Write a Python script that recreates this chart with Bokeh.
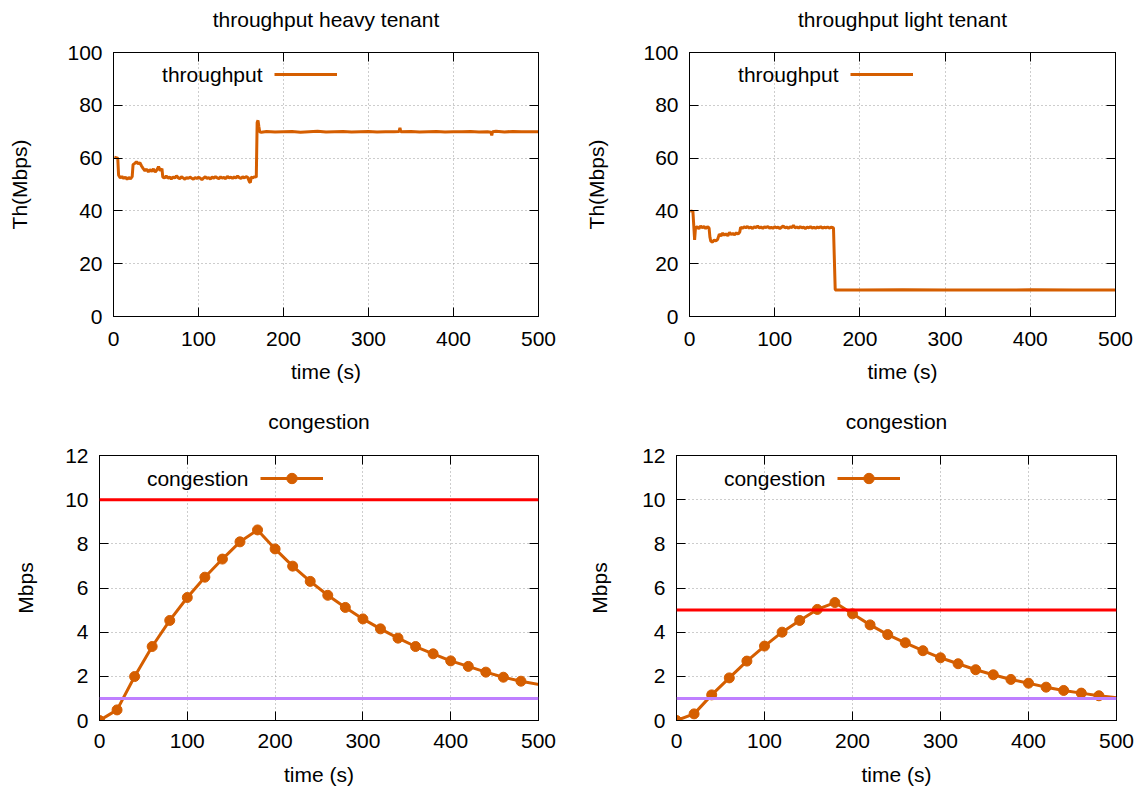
from bokeh.plotting import figure
from bokeh.models import Range1d, FixedTicker, LinearAxis, Span, Label, Legend, LegendItem
from bokeh.layouts import row, column
from bokeh.embed import file_html
from bokeh.resources import INLINE

# ---------------- data ----------------
heavy_t = [1, 5, 6, 8, 10, 12, 14, 16, 18, 20, 22, 23, 25, 27, 29, 31, 33, 35, 37, 39,
           41, 43, 45, 47, 49, 51, 53, 55, 57, 58, 60, 62, 64, 66, 68, 70, 72, 74, 76, 78,
           80, 82, 84, 86, 88, 90, 92, 94, 96, 98, 100, 102, 104, 106, 108, 110, 112, 114,
           116, 118, 120, 122, 124, 126, 128, 130, 132, 134, 136, 138, 140, 142, 144, 146,
           148, 150, 152, 154, 156, 158, 160, 161, 162, 164, 166, 168, 169, 170, 171, 172,
           174, 180, 190, 200, 210, 220, 230, 240, 250, 260, 270, 280, 290, 300, 310, 320,
           330, 336, 337, 338, 350, 360, 370, 380, 390, 400, 410, 420, 430, 440, 444, 445,
           446, 450, 460, 470, 480, 490, 500]
heavy_th = [60.3, 60.0, 53.5, 52.5, 53.0, 52.3, 52.8, 52.0, 52.6, 52.2, 53.0, 57.5, 58.0, 58.6,
            57.8, 58.3, 57.0, 56.0, 55.2, 55.8, 54.8, 55.6, 55.0, 55.9, 54.7, 55.5, 56.8, 55.2,
            56.0, 52.8, 52.5, 53.2, 52.4, 52.8, 52.1, 52.9, 52.4, 53.3, 52.6, 52.2, 52.9, 52.5,
            52.0, 52.6, 52.3, 52.8, 52.4, 52.0, 52.6, 52.3, 52.7, 52.4, 51.8, 52.5, 52.9, 52.3,
            52.6, 52.1, 52.8, 52.4, 53.0, 52.5, 52.2, 52.9, 52.4, 52.7, 52.2, 53.1, 52.5, 52.8,
            52.3, 52.9, 52.4, 53.2, 52.6, 52.3, 52.9, 52.5, 53.0, 52.6, 51.0, 50.8, 52.8, 52.5,
            53.0, 52.8, 73.5, 74.3, 72.0, 70.0, 69.8, 70.1, 69.9, 70.0, 70.1, 69.8, 70.0, 70.2,
            69.9, 70.0, 70.1, 69.9, 70.0, 70.1, 69.9, 70.0, 70.0, 70.1, 71.5, 70.0, 70.1, 69.9,
            70.0, 70.1, 69.9, 70.0, 70.0, 70.1, 69.9, 70.0, 69.8, 68.6, 70.0, 70.2, 69.9, 70.1,
            70.0, 70.0, 70.0]

light_t = [1, 4, 6, 7, 9, 11, 13, 15, 17, 19, 21, 23, 24, 25, 27, 29, 31, 33, 35, 37, 39,
           41, 43, 45, 47, 49, 51, 53, 55, 57, 59, 60, 62, 64, 66, 68, 70, 72, 74, 76, 78,
           80, 82, 84, 86, 88, 90, 92, 94, 96, 98, 100, 102, 104, 106, 108, 110, 112, 114,
           116, 118, 120, 122, 124, 126, 128, 130, 132, 134, 136, 138, 140, 142, 144, 146,
           148, 150, 152, 154, 156, 158, 160, 162, 164, 166, 168, 169, 171, 172, 200, 250,
           300, 350, 400, 450, 500]
light_th = [40.0, 39.8, 29.0, 33.5, 34.0, 33.2, 34.3, 33.6, 34.1, 33.3, 34.0, 33.5, 30.0, 28.5,
            28.2, 29.0, 28.6, 29.2, 31.2, 30.5, 31.6, 30.8, 31.3, 30.6, 31.8, 31.0, 31.5, 30.9,
            31.7, 31.2, 32.0, 33.8, 33.4, 34.0, 33.6, 34.1, 33.5, 33.9, 33.3, 34.0, 33.7, 34.2,
            33.6, 33.9, 33.4, 34.0, 33.7, 34.1, 33.5, 33.8, 33.4, 34.0, 33.6, 33.9, 33.3, 33.8,
            34.3, 33.6, 33.9, 33.4, 34.0, 33.7, 34.5, 33.6, 33.9, 33.5, 34.0, 33.6, 33.8, 33.3,
            33.9, 33.6, 34.0, 33.5, 33.8, 33.4, 33.9, 33.6, 34.0, 33.5, 33.8, 33.6, 33.9, 33.5,
            33.8, 33.7, 33.5, 10.2, 10.0, 10.0, 10.1, 10.0, 10.0, 10.1, 10.0, 10.0]

cong_t = [0, 20, 40, 60, 80, 100, 120, 140, 160, 180, 200, 220, 240, 260, 280, 300, 320,
          340, 360, 380, 400, 420, 440, 460, 480, 520]
cong_heavy = [0.0, 0.48, 1.99, 3.35, 4.53, 5.57, 6.49, 7.31, 8.09, 8.63, 7.77, 6.99, 6.30,
              5.67, 5.12, 4.60, 4.15, 3.73, 3.35, 3.02, 2.70, 2.45, 2.19, 1.96, 1.78, 1.48]
cong_light = [0.0, 0.30, 1.16, 1.93, 2.69, 3.37, 4.00, 4.53, 5.03, 5.34, 4.83, 4.33, 3.89,
              3.52, 3.16, 2.84, 2.57, 2.30, 2.07, 1.86, 1.69, 1.51, 1.36, 1.24, 1.12, 0.94]

heavy_limit = 10
light_limit = 5
min_rate = 1

x_ticks = [0, 100, 200, 300, 400, 500]
th_ticks = [0, 20, 40, 60, 80, 100]
cong_ticks = [0, 2, 4, 6, 8, 10, 12]

# ---------------- style ----------------
FONT = "Liberation Sans"
FS = "21px"
ORANGE = "#d55e00"
GRID = "#9a9a9a"


def style_axis(ax, ticks, label=None, standoff=11, label_standoff=10, show_labels=True):
    ax.ticker = FixedTicker(ticks=ticks)
    ax.major_tick_in = 9
    ax.major_tick_out = 0
    ax.minor_tick_in = 0
    ax.minor_tick_out = 0
    ax.axis_line_color = "black"
    ax.axis_line_width = 1
    ax.major_tick_line_color = "black"
    if show_labels:
        ax.major_label_text_font = FONT
        ax.major_label_text_font_size = FS
        ax.major_label_text_color = "black"
        ax.major_label_standoff = standoff
    else:
        ax.major_label_text_color = None
        ax.major_label_text_alpha = 0
        ax.major_label_text_font_size = "1px"
        ax.major_label_standoff = 0
    if label is not None:
        ax.axis_label = label
        ax.axis_label_text_font = FONT
        ax.axis_label_text_font_size = FS
        ax.axis_label_text_font_style = "normal"
        ax.axis_label_text_color = "black"
        ax.axis_label_standoff = label_standoff


def make_panel(title, title_standoff, fw, fh, bl, br, bt, bb, ymax, yticks, ylabel,
               ylab_standoff, xlab_standoff, xtick_standoff):
    p = figure(frame_width=fw, frame_height=fh,
               min_border_left=bl, min_border_right=br,
               min_border_top=bt, min_border_bottom=bb,
               x_range=Range1d(0, 500), y_range=Range1d(0, ymax),
               output_backend="svg", toolbar_location=None, title=None)
    p.outline_line_color = "black"
    p.outline_line_alpha = 1
    p.outline_line_width = 1
    p.background_fill_color = "white"
    p.border_fill_color = "white"

    style_axis(p.xaxis[0], x_ticks, "time (s)", standoff=xtick_standoff,
               label_standoff=xlab_standoff)
    style_axis(p.yaxis[0], yticks, ylabel, standoff=11, label_standoff=ylab_standoff)

    # mirrored top axis carries the panel title as its label
    top = LinearAxis()
    style_axis(top, x_ticks, label=title, label_standoff=title_standoff, show_labels=False)
    p.add_layout(top, "above")
    right = LinearAxis()
    style_axis(right, yticks, show_labels=False)
    p.add_layout(right, "right")

    p.xgrid.ticker = FixedTicker(ticks=x_ticks[1:-1])
    p.ygrid.ticker = FixedTicker(ticks=yticks[1:-1])
    for g in (p.xgrid, p.ygrid):
        g.grid_line_color = GRID
        g.grid_line_dash = "1 3"
        g.grid_line_width = 1
    return p


def add_key(p, renderers, text):
    p.add_layout(Label(x=149, y=242, x_units="screen", y_units="screen", text=text,
                       text_align="right", text_baseline="middle", text_font=FONT,
                       text_font_size=FS, text_color="black"))
    leg = Legend(items=[LegendItem(label=" ", renderers=renderers)], location=(161, 229),
                 padding=0, margin=0, spacing=0, glyph_width=63, glyph_height=26,
                 label_standoff=0, label_width=0, label_height=0,
                 label_text_font_size="1px", label_text_color=None, label_text_alpha=0,
                 border_line_alpha=0, background_fill_alpha=0)
    p.add_layout(leg)


# ---------------- top-left ----------------
p1 = make_panel("throughput heavy tenant", 22, 425, 264, 113, 38, 52, 79, 100,
                th_ticks, "Th(Mbps)", 33, 11, 15)
r1 = p1.line(heavy_t, heavy_th, line_color=ORANGE, line_width=3)
add_key(p1, [r1], "throughput")

# ---------------- top-right ----------------
p2 = make_panel("throughput light tenant", 22, 426, 264, 113, 30, 52, 79, 100,
                th_ticks, "Th(Mbps)", 32, 11, 15)
r2 = p2.line(light_t, light_th, line_color=ORANGE, line_width=3)
add_key(p2, [r2], "throughput")

# ---------------- bottom-left ----------------
p3 = make_panel("congestion", 23, 439, 265, 99, 38, 60, 70, 12, cong_ticks,
                "Mbps", 25, 12, 13)
r3a = p3.line(cong_t, cong_heavy, line_color=ORANGE, line_width=3)
r3b = p3.scatter(cong_t, cong_heavy, marker="circle", size=10, fill_color=ORANGE,
                 line_color=ORANGE)
p3.add_layout(Span(location=heavy_limit, dimension="width", line_color="#ff0000",
                   line_width=3))
p3.add_layout(Span(location=min_rate, dimension="width", line_color="#bf80ff",
                   line_width=3))
add_key(p3, [r3a, r3b], "congestion")

# ---------------- bottom-right ----------------
p4 = make_panel("congestion", 23, 440, 265, 100, 29, 60, 70, 12, cong_ticks,
                "Mbps", 28, 12, 13)
r4a = p4.line(cong_t, cong_light, line_color=ORANGE, line_width=3)
r4b = p4.scatter(cong_t, cong_light, marker="circle", size=10, fill_color=ORANGE,
                 line_color=ORANGE)
p4.add_layout(Span(location=light_limit, dimension="width", line_color="#ff0000",
                   line_width=3))
p4.add_layout(Span(location=min_rate, dimension="width", line_color="#bf80ff",
                   line_width=3))
add_key(p4, [r4a, r4b], "congestion")

layout = column(row(p1, p2), row(p3, p4))
open("out.html", "w").write(file_html(layout, INLINE))
